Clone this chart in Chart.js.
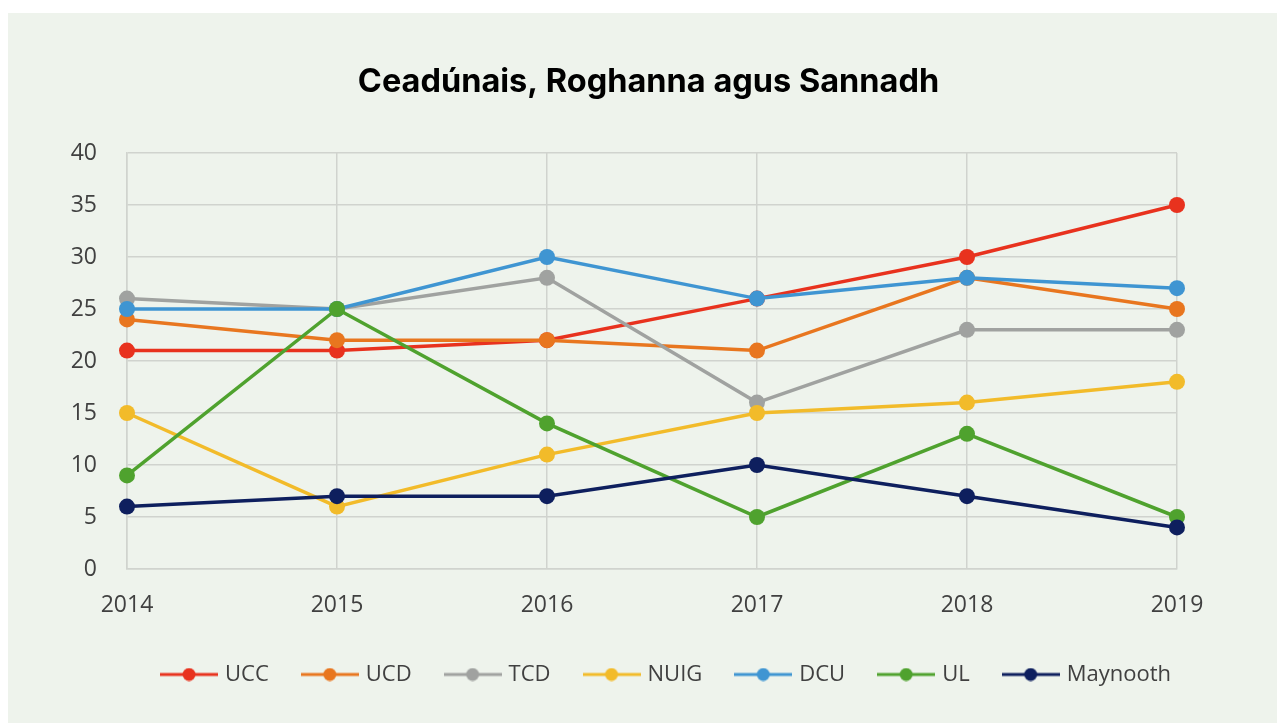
<!DOCTYPE html>
<html>
<head>
<meta charset="utf-8">
<title>Ceadúnais, Roghanna agus Sannadh</title>
<script src="https://cdn.jsdelivr.net/npm/chart.js@4.4.1/dist/chart.umd.min.js"></script>
<style>
  html, body { margin: 0; padding: 0; background: #ffffff; }
  #panel { position: absolute; left: 8px; top: 13px; width: 1269px; height: 710px; background: #eef3ec; }
  canvas { display: block; }
</style>
</head>
<body>
<div id="panel"><canvas id="grafica" width="1269" height="710"></canvas></div>
<script>
// Datos
const anios = ['2014', '2015', '2016', '2017', '2018', '2019'];
const ucc = [21, 21, 22, 26, 30, 35];
const ucd = [24, 22, 22, 21, 28, 25];
const tcd = [26, 25, 28, 16, 23, 23];
const nuig = [15, 6, 11, 15, 16, 18];
const dcu = [25, 25, 30, 26, 28, 27];
const ul = [9, 25, 14, 5, 13, 5];
const maynooth = [6, 7, 7, 10, 7, 4];

const nombres = ['UCC', 'UCD', 'TCD', 'NUIG', 'DCU', 'UL', 'Maynooth'];
const series = [ucc, ucd, tcd, nuig, dcu, ul, maynooth];
const colores = ['#e8321e', '#e8761f', '#a0a2a0', '#f2bb2a', '#3f95d2', '#4fa22e', '#0e1f5e'];

const colorTexto = '#404040';
const colorRejilla = '#d0d3ce';

// icono de la leyenda: línea con punto en el centro
function iconoLeyenda(color) {
    const c = document.createElement('canvas');
    c.width = 58;
    c.height = 14;
    const ctx = c.getContext('2d');
    ctx.strokeStyle = color;
    ctx.lineWidth = 3;
    ctx.beginPath();
    ctx.moveTo(0, 7);
    ctx.lineTo(58, 7);
    ctx.stroke();
    ctx.fillStyle = color;
    ctx.beginPath();
    ctx.arc(29, 7, 6.5, 0, Math.PI * 2);
    ctx.fill();
    return c;
}

const datasets = series.map((valores, i) => ({
    label: nombres[i],
    data: valores,
    borderColor: colores[i],
    backgroundColor: colores[i],
    pointBackgroundColor: colores[i],
    pointBorderColor: colores[i],
    pointBorderWidth: 0,
    pointRadius: 8,
    borderWidth: 3.5,
    tension: 0,
    order: series.length - i // las series posteriores quedan encima
}));

// mover la leyenda un poco a la derecha, como en el original
const moverLeyenda = {
    id: 'moverLeyenda',
    afterLayout(chart) {
        chart.legend.left += 19;
        chart.legend.right += 19;
        chart.legend.top += 2;
        chart.legend.bottom += 2;
    }
};

new Chart(document.getElementById('grafica').getContext('2d'), {
    type: 'line',
    data: { labels: anios, datasets: datasets },
    plugins: [moverLeyenda],
    options: {
        responsive: false,
        devicePixelRatio: 1,
        animation: false,
        layout: { padding: { left: 12, right: 0, top: 0, bottom: 29.5 } },
        plugins: {
            title: {
                display: true,
                text: 'Ceadúnais, Roghanna agus Sannadh',
                color: '#000000',
                font: { family: 'Inter', size: 32.5, weight: 'bold' },
                padding: { top: 49.5, bottom: 51.5 }
            },
            legend: {
                position: 'bottom',
                labels: {
                    usePointStyle: true,
                    pointStyleWidth: 50,
                    padding: 36,
                    color: colorTexto,
                    font: { family: 'Open Sans', size: 22 },
                    generateLabels: (chart) => chart.data.datasets.map((ds, i) => ({
                        text: ds.label,
                        pointStyle: iconoLeyenda(colores[i]),
                        fontColor: colorTexto,
                        datasetIndex: i,
                        hidden: false,
                        lineWidth: 0
                    }))
                }
            },
            tooltip: { enabled: false }
        },
        scales: {
            x: {
                grid: { color: colorRejilla, lineWidth: 1.5, drawTicks: false },
                border: { color: colorRejilla, width: 1.5 },
                ticks: { color: colorTexto, font: { family: 'Open Sans', size: 23 }, padding: 23 },
                afterFit: (scale) => { scale.height = 56.5; }
            },
            y: {
                min: 0,
                max: 40,
                ticks: { stepSize: 5, color: colorTexto, font: { family: 'Open Sans', size: 23 }, padding: 30 },
                grid: { color: colorRejilla, lineWidth: 1.5, drawTicks: false },
                border: { color: colorRejilla, width: 1.5 },
                afterFit: (scale) => { scale.width = 107; }
            },
            derecha: {
                type: 'linear',
                position: 'right',
                grid: { display: false },
                border: { display: false },
                ticks: { display: false },
                afterFit: (scale) => { scale.width = 100; }
            }
        }
    }
});
</script>
</body>
</html>
